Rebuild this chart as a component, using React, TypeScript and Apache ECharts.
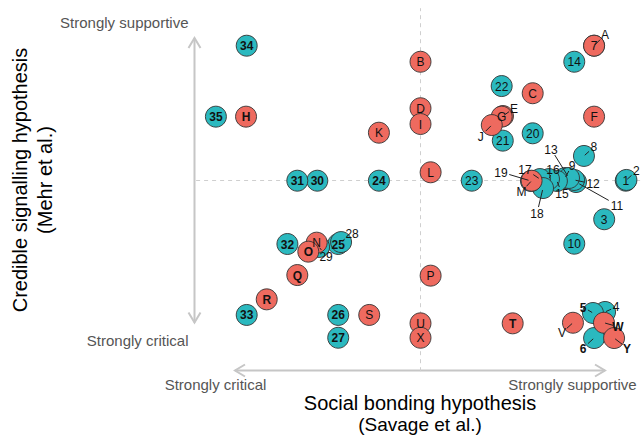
import React, { useEffect, useRef } from "react";
import * as echarts from "echarts";

// Teal points (numbered)
const tealLabels = ["1","2","3","4","5","6","7","8","9","10","11","12","13","14","15","16","17","18","19","20","21","22","23","24","25","26","27","28","29","30","31","32","33","34","35"];
const tealX = [9.33, 9.36, 8.35, 8.39, 7.84, 7.89, 7.89, 7.43, 6.57, 6.99, 7.07, 6.98, 6.75, 6.99, 6.2, 5.84, 5.43, 5.57, 5.02, 5.1, 3.74, 3.69, 2.33, -1.89, -3.74, -3.74, -3.74, -3.61, -4.61, -4.69, -5.6, -6.05, -7.9, -7.9, -9.3];
const tealY = [0, 0.05, -2.57, -8.75, -8.82, -10.49, 9.0, 1.65, 0.18, -4.2, -0.09, 0.05, 0.18, 7.93, -0.02, 0.11, 0.11, -0.49, -0.02, 3.16, 2.67, 6.31, 0, 0, -4.22, -8.95, -10.47, -4.09, -4.42, 0, 0, -4.22, -8.95, 9.0, 4.27];

// Red points (lettered)
const redLabels = ["A","B","C","D","E","F","G","H","I","J","K","L","M","N","O","P","Q","R","S","T","U","V","W","X","Y"];
const redX = [7.89, 0, 5.1, 0, 3.75, 7.89, 3.69, -7.93, 0, 3.24, -1.89, 0.46, 5.05, -4.72, -5.1, 0.46, -5.6, -6.99, -2.33, 4.19, 0, 6.93, 8.34, 0, 8.8];
const redY = [9.0, 7.93, 5.83, 4.83, 4.31, 4.27, 4.27, 4.27, 3.78, 3.71, 3.2, 0.56, 0, -4.13, -4.73, -6.33, -6.29, -7.91, -8.95, -9.51, -9.51, -9.47, -9.47, -10.47, -10.49];

// Axis texts
const xEndLabels = ["Strongly critical", "Strongly supportive"];
const yEndLabels = ["Strongly critical", "Strongly supportive"];
const xTitle = ["Social bonding hypothesis", "(Savage et al.)"];
const yTitle = ["Credible signalling hypothesis", "(Mehr et al.)"];

// label nudges (pixels) for repelled labels
const labelNudge: Record<string, [number, number]> = {
  A: [11, -11], "2": [10, -9], "8": [10, -9], "13": [-18, -29], "9": [7, -13],
  "16": [4, -10], "17": [-15, -10], "19": [-30, -9], M: [-10, 11], "18": [-6, 25],
  "15": [5, 12], "12": [19, 4], "11": [41, 23], E: [11, -8], J: [-11, 11],
  "28": [11, -9], "29": [7, 9], "5": [-10, -6], "4": [11, -5], "6": [-11, 10],
  V: [-11, 10], W: [14, 4], Y: [13, 10],
};
const boldLabels = ["34","35","H","31","30","24","32","25","O","33","26","27","T","R","Q","5","6","W","Y"];

const FONT = '"Liberation Sans", Arial, Helvetica, sans-serif';
const TEAL = "#2BB9BF";
const RED = "#EE6A5F";

export default function App() {
  const ref = useRef<HTMLDivElement>(null);
  useEffect(() => {
    const chart = echarts.init(ref.current!, null, { renderer: "svg" });
    const tealData = tealX.map((x, i) => [x, tealY[i]]);
    const redData = redX.map((x, i) => [x, redY[i]]);
    const allLabels = [...tealLabels, ...redLabels];
    const labelData = [...tealData, ...redData];

    const circleStyle = (c: string) => ({ color: c, borderColor: "#333", borderWidth: 0.9, opacity: 1 });

    const grey = "#c6c6c6";
    const arrowStyle = { stroke: grey, lineWidth: 2, fill: "none" };

    chart.setOption({
      animation: false,
      grid: { left: 196.1, right: 2.5, top: 8.2, bottom: 64.8 },
      xAxis: { type: "value", min: -10.2, max: 10, show: false },
      yAxis: { type: "value", min: -12.7, max: 11.5, show: false },
      series: [
        {
          type: "scatter",
          data: [],
          z: 1,
          silent: true,
          markLine: {
            z: 1,
            silent: true,
            symbol: "none",
            label: { show: false },
            lineStyle: { color: "#cfcfcf", type: [4, 4], width: 1 },
            data: [{ xAxis: 0 }, { yAxis: 0 }],
          },
        },
        {
          type: "scatter",
          data: tealData,
          symbolSize: 21,
          itemStyle: circleStyle(TEAL),
          z: 10,
          clip: false,
        },
        {
          type: "scatter",
          data: redData,
          symbolSize: 21,
          itemStyle: circleStyle(RED),
          z: 11,
          clip: false,
        },
        {
          type: "custom",
          z: 12,
          clip: false,
          silent: true,
          data: labelData,
          encode: { x: 0, y: 1 },
          renderItem: (params: any, api: any) => {
            const i = params.dataIndex;
            const name = allLabels[i];
            const p = api.coord([api.value(0), api.value(1)]);
            const off = labelNudge[name];
            const bold = boldLabels.includes(name);
            const font = `${bold ? "bold " : ""}12px ${FONT}`;
            if (!off) {
              return {
                type: "text",
                x: p[0],
                y: p[1] + 0.5,
                style: { text: name, font, fill: "#111", align: "center", verticalAlign: "middle" },
              };
            }
            const dx = off[0], dy = off[1];
            const lx = p[0] + dx, ly = p[1] + dy;
            const hw = 3.4 * name.length + 1.5, hh = 6;
            const t = Math.min(hw / Math.max(Math.abs(dx), 1e-6), hh / Math.max(Math.abs(dy), 1e-6));
            const children: any[] = [];
            if (t < 0.9) {
              const ex = lx - dx * t, ey = ly - dy * t;
              const sx = p[0] + dx * 0.08, sy = p[1] + dy * 0.08;
              children.push({
                type: "line",
                shape: { x1: sx, y1: sy, x2: ex, y2: ey },
                style: { stroke: "#222", lineWidth: 1 },
              });
            }
            children.push({
              type: "text",
              x: lx,
              y: ly + 0.5,
              style: { text: name, font, fill: "#111", align: "center", verticalAlign: "middle" },
            });
            return { type: "group", children };
          },
        },
      ],
      graphic: [
        // vertical double arrow
        { type: "line", shape: { x1: 194.5, y1: 38, x2: 194.5, y2: 322.5 }, style: arrowStyle },
        { type: "polyline", shape: { points: [[188.5, 48], [194.5, 38], [200.5, 48]] }, style: arrowStyle },
        { type: "polyline", shape: { points: [[188.5, 312.5], [194.5, 322.5], [200.5, 312.5]] }, style: arrowStyle },
        // horizontal double arrow
        { type: "line", shape: { x1: 235, y1: 370.5, x2: 605, y2: 370.5 }, style: arrowStyle },
        { type: "polyline", shape: { points: [[245, 364.5], [235, 370.5], [245, 376.5]] }, style: arrowStyle },
        { type: "polyline", shape: { points: [[595, 364.5], [605, 370.5], [595, 376.5]] }, style: arrowStyle },
        // y end labels
        { type: "text", x: 188.5, y: 22.5, style: { text: yEndLabels[1], font: `15px ${FONT}`, fill: "#555", align: "right", verticalAlign: "middle" } },
        { type: "text", x: 188.5, y: 340, style: { text: yEndLabels[0], font: `15px ${FONT}`, fill: "#555", align: "right", verticalAlign: "middle" } },
        // x end labels
        { type: "text", x: 215.5, y: 384, style: { text: xEndLabels[0], font: `15px ${FONT}`, fill: "#555", align: "center", verticalAlign: "middle" } },
        { type: "text", x: 572.5, y: 384, style: { text: xEndLabels[1], font: `15px ${FONT}`, fill: "#555", align: "center", verticalAlign: "middle" } },
        // x title
        { type: "text", x: 420, y: 403, style: { text: xTitle[0], font: `20px ${FONT}`, fill: "#000", align: "center", verticalAlign: "middle" } },
        { type: "text", x: 420, y: 424.5, style: { text: xTitle[1], font: `19px ${FONT}`, fill: "#000", align: "center", verticalAlign: "middle" } },
        // y title
        { type: "text", x: 20, y: 180, rotation: Math.PI / 2, style: { text: yTitle[0], font: `20px ${FONT}`, fill: "#000", align: "center", verticalAlign: "middle" } },
        { type: "text", x: 45, y: 180, rotation: Math.PI / 2, style: { text: yTitle[1], font: `20px ${FONT}`, fill: "#000", align: "center", verticalAlign: "middle" } },
      ],
    });
    return () => chart.dispose();
  }, []);
  return <div ref={ref} style={{ position: "absolute", left: 0, top: 0, width: 643, height: 436 }} />;
}
